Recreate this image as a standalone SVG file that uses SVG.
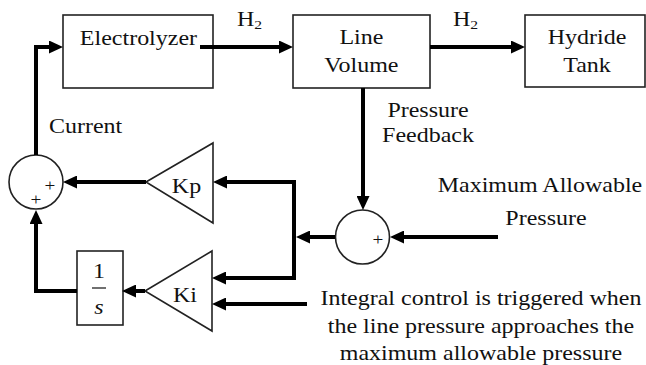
<svg xmlns="http://www.w3.org/2000/svg" width="646" height="365" viewBox="0 0 646 365" font-family="'Liberation Serif', 'DejaVu Serif', serif">
<defs>
<style>
.box{fill:#fff;stroke:#222;stroke-width:1.6}
.wire{fill:none;stroke:#000;stroke-width:4;stroke-linejoin:miter}
.arr{marker-end:url(#ah)}
text{font-family:'Liberation Serif','DejaVu Serif',serif;font-size:20px;fill:#111}
.m{text-anchor:middle}
.pl{font-size:16px}
</style>
<marker id="ah" markerUnits="userSpaceOnUse" markerWidth="14" markerHeight="13" refX="9" refY="6.5" orient="auto">
<path d="M0,0 L14,6.5 L0,13 z" fill="#000"/>
</marker>
</defs>
<rect width="646" height="365" fill="#fff"/>

<g id="electrolyzer">
<rect class="box" x="63" y="15" width="150" height="73"/>
<text class="m" font-family="Liberation Serif" transform="scale(1.2 1)" x="115.4" y="45">Electrolyzer</text>
</g>
<g id="line-volume">
<rect class="box" x="293" y="15" width="137" height="73"/>
<text class="m" font-family="Liberation Serif" transform="scale(1.2 1)" x="301.2" y="44">Line</text>
<text class="m" font-family="Liberation Serif" transform="scale(1.2 1)" x="301.2" y="72">Volume</text>
</g>
<g id="hydride-tank">
<rect class="box" x="525" y="15" width="120" height="72"/>
<text class="m" font-family="Liberation Serif" transform="scale(1.2 1)" x="489.2" y="44">Hydride</text>
<text class="m" font-family="Liberation Serif" transform="scale(1.2 1)" x="489.2" y="72">Tank</text>
</g>
<g id="sum-current">
<circle class="box" cx="36" cy="182" r="27"/>
<text class="pl" font-family="Liberation Serif" transform="scale(1.2 1)" x="41.7" y="191" text-anchor="middle">+</text>
<text class="pl" font-family="Liberation Serif" transform="scale(1.2 1)" x="30" y="205" text-anchor="middle">+</text>
</g>
<g id="sum-pressure">
<circle class="box" cx="362.5" cy="237" r="27"/>
<text class="pl" font-family="Liberation Serif" transform="scale(1.2 1)" x="315" y="245" text-anchor="middle">+</text>
</g>
<g id="kp">
<polygon class="box" points="146,182 213,143 213,223"/>
<text class="m" font-family="Liberation Serif" transform="scale(1.2 1)" x="155.4" y="193">Kp</text>
</g>
<g id="ki">
<polygon class="box" points="145,291 212,251 212,331"/>
<text class="m" font-family="Liberation Serif" transform="scale(1.2 1)" x="154.2" y="302">Ki</text>
</g>
<g id="integrator">
<rect class="box" x="77" y="251" width="46" height="74"/>
<text class="m" font-family="Liberation Serif" transform="scale(1.2 1)" x="82.5" y="278">1</text>
<line x1="92" y1="288" x2="106" y2="288" stroke="#111" stroke-width="1.2"/>
<text class="m" font-family="Liberation Serif" transform="scale(1.2 1)" x="82.5" y="314" font-style="italic">s</text>
</g>

<g id="connectors">
<path class="wire arr" d="M36 155 V47 H58"/>
<path class="wire arr" d="M200 47 H288"/>
<path class="wire arr" d="M430 47 H520"/>
<path class="wire arr" d="M363 88 V205"/>
<path class="wire arr" d="M498 237 H395"/>
<path class="wire arr" d="M335 237 H301"/>
<path class="wire" d="M294 180 V280"/>
<path class="wire arr" d="M296 182 H218"/>
<path class="wire arr" d="M296 278 H217"/>
<path class="wire arr" d="M146 182 H68"/>
<path class="wire arr" d="M307 304 H217"/>
<path class="wire arr" d="M145 291 H127"/>
<path class="wire arr" d="M77 291 H36 V215"/>
</g>

<g id="labels" font-family="Liberation Serif">
<text font-family="Liberation Serif" transform="scale(1.2 1)" x="197.5" y="26">H<tspan font-size="13" dy="3">2</tspan></text>
<text font-family="Liberation Serif" transform="scale(1.2 1)" x="377.5" y="26">H<tspan font-size="13" dy="3">2</tspan></text>
<text font-family="Liberation Serif" transform="scale(1.2 1)" x="40.8" y="133">Current</text>
<text class="m" font-family="Liberation Serif" transform="scale(1.2 1)" x="356.7" y="117">Pressure</text>
<text class="m" font-family="Liberation Serif" transform="scale(1.2 1)" x="356.7" y="142">Feedback</text>
<text class="m" font-family="Liberation Serif" transform="scale(1.2 1)" x="450" y="192">Maximum Allowable</text>
<text class="m" font-family="Liberation Serif" transform="scale(1.2 1)" x="455" y="225">Pressure</text>
<text class="m" font-family="Liberation Serif" transform="scale(1.2 1)" x="400.8" y="305">Integral control is triggered when</text>
<text class="m" font-family="Liberation Serif" transform="scale(1.2 1)" x="400.8" y="333">the line pressure approaches the</text>
<text class="m" font-family="Liberation Serif" transform="scale(1.2 1)" x="400.8" y="360">maximum allowable pressure</text>
</g>
</svg>
